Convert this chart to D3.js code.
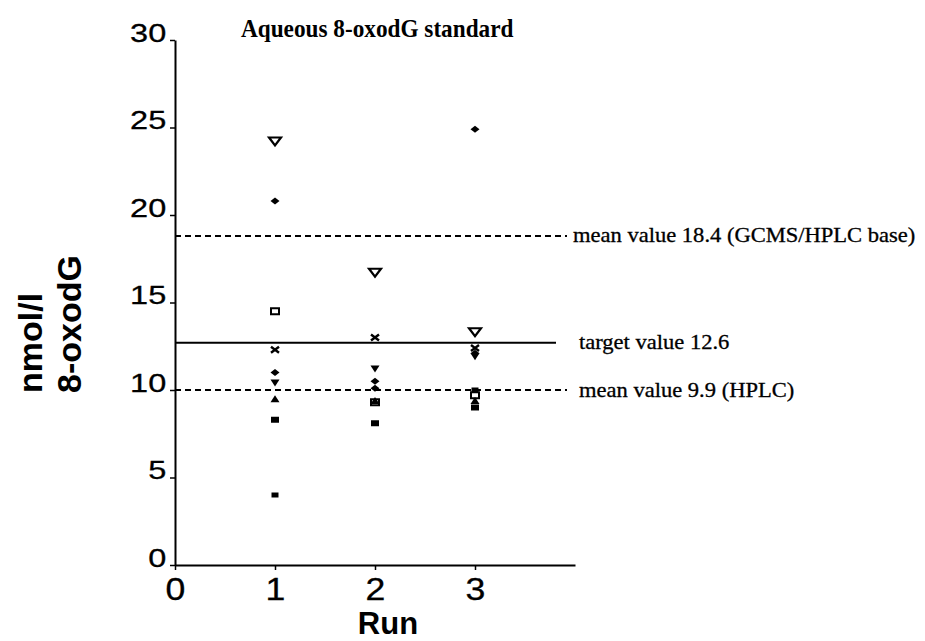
<!DOCTYPE html>
<html>
<head>
<meta charset="utf-8">
<script src="https://cdn.jsdelivr.net/npm/d3@7"></script>
<style>
  html, body { margin: 0; padding: 0; background: #fff; }
  svg { display: block; }
</style>
</head>
<body>
<svg id="chart" width="925" height="641"></svg>
<script>
// ---------------- data ----------------
const runs = [1, 2, 3];
const yTicks = [0, 5, 10, 15, 20, 25, 30];
const xTicks = [0, 1, 2, 3];

// one array per participating lab (marker symbol), values per run
const labOpenTriangle = [24.2, 16.7, 13.3];
const labDiamondA     = [20.8, 10.1, 24.9];
const labOpenSquare   = [14.5, 9.3, 9.7];
const labCross        = [12.3, 13.0, 12.4];
const labDiamondB     = [11.0, 10.5, 12.1];
const labTriangleDown = [10.4, 11.2, 11.9];
const labTriangleUp   = [9.5, 9.4, 9.4];
const labSquareA      = [8.3, 8.1, 9.0];
const labSquareB      = [4.0, null, 10.0];

const refValues = [18.8, 12.7, 10.0];
const refLabels = ["mean value 18.4 (GCMS/HPLC base)", "target value 12.6", "mean value 9.9 (HPLC)"];

const titleText = "Aqueous 8-oxodG standard";
const xTitle = "Run";
const yTitleLines = ["nmol/l", "8-oxodG"];

// ---------------- layout ----------------
const svg = d3.select("#chart");
const x = d3.scaleLinear().domain([0, 4]).range([175, 575]);
const y = d3.scaleLinear().domain([0, 30]).range([565, 40]);

const sans = "'Liberation Sans', Arial, Helvetica, sans-serif";
const serif = "'Liberation Serif', 'Times New Roman', Times, serif";

// reference lines
const refDashed = [true, false, true];
const refEnd = [3.92, 3.81, 3.92];
const refLabelX = [573, 579, 579];
const refLabelDy = [6, 6, 7];

svg.append("g").selectAll("line")
  .data(refValues)
  .join("line")
  .attr("x1", x(0))
  .attr("x2", (d, i) => x(refEnd[i]))
  .attr("y1", d => y(d))
  .attr("y2", d => y(d))
  .attr("stroke", "#000")
  .attr("stroke-width", (d, i) => refDashed[i] ? 1.8 : 2)
  .attr("stroke-dasharray", (d, i) => refDashed[i] ? "6,4" : null);

svg.append("g").selectAll("text")
  .data(refValues)
  .join("text")
  .attr("transform", (d, i) => `translate(${refLabelX[i]},${y(d) + refLabelDy[i]}) scale(1.1,1)`)
  .attr("font-family", serif)
  .attr("font-size", 20.5)
  .attr("fill", "#000")
  .attr("stroke", "#000")
  .attr("stroke-width", 0.3)
  .text((d, i) => refLabels[i]);

// axes
const yAxis = svg.append("g")
  .attr("transform", `translate(${x(0)},0)`)
  .call(d3.axisLeft(y).tickValues(yTicks).tickSize(5).tickSizeOuter(0).tickFormat(d3.format("d")));
yAxis.select(".domain").attr("stroke-width", 2);
yAxis.selectAll(".tick line").attr("stroke-width", 1.5);
yAxis.selectAll(".tick text")
  .attr("font-family", sans)
  .attr("font-size", 26)
  .attr("fill", "#000")
  .attr("stroke", "#000")
  .attr("stroke-width", 0.3)
  .attr("x", -7)
  .attr("y", 1)
  .attr("dy", 0)
  .attr("transform", "scale(1.25,1)");

const xAxis = svg.append("g")
  .attr("transform", `translate(0,${y(0)})`)
  .call(d3.axisBottom(x).tickValues(xTicks).tickSize(5).tickSizeOuter(0).tickFormat(d3.format("d")));
xAxis.select(".domain").attr("stroke-width", 2);
xAxis.selectAll(".tick line").attr("stroke-width", 1.5);
xAxis.selectAll(".tick text")
  .attr("font-family", sans)
  .attr("font-size", 31)
  .attr("fill", "#000")
  .attr("stroke", "#000")
  .attr("stroke-width", 0.3)
  .attr("y", 35)
  .attr("dy", 0)
  .attr("transform", "scale(1.15,1)");
svg.selectAll(".domain").attr("stroke", "#000");

// titles
svg.append("text")
  .attr("transform", "translate(241,37) scale(0.93,1)")
  .attr("font-family", serif)
  .attr("font-weight", "bold")
  .attr("font-size", 25)
  .text(titleText);

svg.append("text")
  .attr("x", 388).attr("y", 634)
  .attr("text-anchor", "middle")
  .attr("font-family", sans)
  .attr("font-weight", "bold")
  .attr("font-size", 31)
  .text(xTitle);

const yTitleX = [42, 81];
svg.append("g").selectAll("text")
  .data(yTitleLines)
  .join("text")
  .attr("transform", (d, i) => `translate(${yTitleX[i]},393) rotate(-90)`)
  .attr("font-family", sans)
  .attr("font-weight", "bold")
  .attr("font-size", 34)
  .text(d => d);

// ---------------- markers ----------------
const markers = [
  { values: labOpenTriangle, path: "M-6,-4 L6,-4 L0,4 Z", fill: "#fff", stroke: 2.2 },
  { values: labDiamondA,     path: "M-4.5,0 L0,-3.5 L4.5,0 L0,3.5 Z", fill: "#000", stroke: 0 },
  { values: labOpenSquare,   path: "M-4,-3 H4 V3 H-4 Z", fill: "#fff", stroke: 2 },
  { values: labCross,        path: "M-4,-3 L4,3 M-4,3 L4,-3", fill: "none", stroke: 2.4 },
  { values: labDiamondB,     path: "M-4.5,0 L0,-3.5 L4.5,0 L0,3.5 Z", fill: "#000", stroke: 0 },
  { values: labTriangleDown, path: "M-4.5,-3.5 L4.5,-3.5 L0,3.5 Z", fill: "#000", stroke: 0 },
  { values: labTriangleUp,   path: "M-4.5,3.5 L4.5,3.5 L0,-3.5 Z", fill: "#000", stroke: 0 },
  { values: labSquareA,      path: "M-4,-3 H4 V3 H-4 Z", fill: "#000", stroke: 0 },
  { values: labSquareB,      path: "M-3.5,-2.5 H3.5 V2.5 H-3.5 Z", fill: "#000", stroke: 0 }
];

const mg = svg.append("g");
markers.forEach(m => {
  const pts = runs.map((r, i) => ({ run: r, v: m.values[i] })).filter(p => p.v != null);
  mg.append("g").selectAll("path")
    .data(pts)
    .join("path")
    .attr("transform", p => `translate(${x(p.run)},${y(p.v)})`)
    .attr("d", m.path)
    .attr("fill", m.fill)
    .attr("stroke", m.stroke ? "#000" : "none")
    .attr("stroke-width", m.stroke);
});
</script>
</body>
</html>
